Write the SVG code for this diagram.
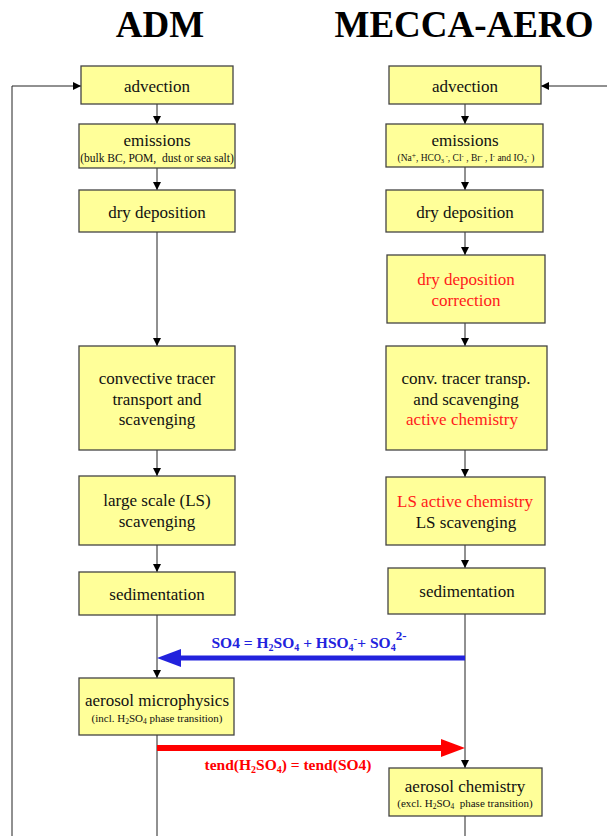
<svg xmlns="http://www.w3.org/2000/svg" width="607" height="836" viewBox="0 0 607 836">
<defs>
<marker id="ah" markerWidth="8" markerHeight="10" refX="8" refY="5" orient="auto" markerUnits="userSpaceOnUse">
<path d="M0,1 L8,5 L0,9 Z" fill="#000"/>
</marker>
<style>
.box{fill:#ffff99;stroke:#444;stroke-width:1.3}
.t{font-family:"Liberation Serif","Times New Roman",serif;font-size:17px;fill:#111;text-anchor:middle}
.s{font-family:"Liberation Serif","Times New Roman",serif;fill:#111;text-anchor:middle}
.r{fill:#ff1a1a}
.h{font-family:"Liberation Serif","Times New Roman",serif;font-size:37px;font-weight:bold;fill:#000;text-anchor:middle}
.c{stroke:#222;stroke-width:1;fill:none}
.ca{stroke:#222;stroke-width:1;fill:none;marker-end:url(#ah)}
.lb{font-family:"Liberation Serif","Times New Roman",serif;font-size:15.5px;font-weight:bold;text-anchor:middle}
</style>
</defs>
<rect width="607" height="836" fill="#fff"/>
<text class="h" x="160" y="37">ADM</text>
<text class="h" x="464" y="37">MECCA-AERO</text>

<g id="connectors">
<polyline class="ca" points="12,836 12,86 81,86"/>
<polyline class="ca" points="607,86 541,86"/>
<line class="ca" x1="157" y1="104" x2="157" y2="124"/>
<line class="ca" x1="157" y1="168" x2="157" y2="190"/>
<line class="ca" x1="157" y1="232" x2="157" y2="346"/>
<line class="ca" x1="157" y1="450" x2="157" y2="476"/>
<line class="ca" x1="157" y1="545" x2="157" y2="572"/>
<line class="ca" x1="157" y1="615" x2="157" y2="678"/>
<line class="c" x1="157" y1="735" x2="157" y2="836"/>
<line class="ca" x1="465" y1="104" x2="465" y2="124"/>
<line class="ca" x1="465" y1="167" x2="465" y2="190"/>
<line class="ca" x1="465" y1="232" x2="465" y2="255"/>
<line class="ca" x1="465" y1="323" x2="465" y2="346"/>
<line class="ca" x1="465" y1="450" x2="465" y2="477"/>
<line class="ca" x1="465" y1="545" x2="465" y2="568"/>
<line class="ca" x1="465" y1="614" x2="465" y2="768"/>
<line class="c" x1="465" y1="816" x2="465" y2="836"/>
<line x1="465" y1="658" x2="178" y2="658" stroke="#2222dd" stroke-width="5"/>
<path d="M157,658 L181,649 L181,667 Z" fill="#2222dd"/>
<line x1="157" y1="748" x2="444" y2="748" stroke="#ff0000" stroke-width="6"/>
<path d="M465,748 L441,739 L441,757 Z" fill="#ff0000"/>
<text class="lb" x="309" y="648" fill="#2222dd">SO4 = H<tspan font-size="10" dy="3">2</tspan><tspan dy="-3">SO</tspan><tspan font-size="10" dy="3">4</tspan><tspan dy="-3"> + HSO</tspan><tspan font-size="10" dy="3">4</tspan><tspan font-size="11" dy="-9">-</tspan><tspan dy="6">+ SO</tspan><tspan font-size="10" dy="3">4</tspan><tspan font-size="13" dy="-11">2-</tspan></text>
<text class="lb" x="288" y="770" fill="#ff0000">tend(H<tspan font-size="10" dy="3">2</tspan><tspan dy="-3">SO</tspan><tspan font-size="10" dy="3">4</tspan><tspan dy="-3">) = tend(SO4)</tspan></text>
</g>

<g id="adm-advection"><rect class="box" x="81" y="66" width="152" height="38"/><text class="t" x="157" y="92">advection</text></g>
<g id="adm-emissions"><rect class="box" x="79" y="124" width="156" height="44"/><text class="t" x="157" y="146">emissions</text><text class="s" x="157" y="162" font-size="11.5" xml:space="preserve">(bulk BC, POM,  dust or sea salt)</text></g>
<g id="adm-drydep"><rect class="box" x="79" y="190" width="156" height="42"/><text class="t" x="157" y="218">dry deposition</text></g>
<g id="adm-convective"><rect class="box" x="79" y="346" width="156" height="104"/><text class="t" x="157" y="384">convective tracer</text><text class="t" x="157" y="405">transport and</text><text class="t" x="157" y="425">scavenging</text></g>
<g id="adm-ls"><rect class="box" x="79" y="476" width="156" height="69"/><text class="t" x="157" y="506">large scale (LS)</text><text class="t" x="157" y="527">scavenging</text></g>
<g id="adm-sedimentation"><rect class="box" x="79" y="572" width="156" height="43"/><text class="t" x="157" y="600">sedimentation</text></g>
<g id="adm-microphysics"><rect class="box" x="79" y="678" width="155" height="57"/><text class="t" x="157" y="706">aerosol microphysics</text><text class="s" x="157" y="722" font-size="11">(incl. H<tspan font-size="7.5" dy="2">2</tspan><tspan dy="-2">SO</tspan><tspan font-size="7.5" dy="2">4</tspan><tspan dy="-2"> phase transition)</tspan></text></g>

<g id="mecca-advection"><rect class="box" x="389" y="66" width="152" height="38"/><text class="t" x="465" y="92">advection</text></g>
<g id="mecca-emissions"><rect class="box" x="386" y="124" width="157" height="43"/><text class="t" x="465" y="146">emissions</text><text class="s" x="466" y="161" font-size="9.5">(Na<tspan font-size="7.5" dy="-3">+</tspan><tspan dy="3">, HCO</tspan><tspan font-size="6.5" dy="2">3</tspan><tspan font-size="6.5" dy="-5"> -</tspan><tspan dy="3">, Cl</tspan><tspan font-size="6.5" dy="-3">-</tspan><tspan dy="3"> , Br</tspan><tspan font-size="6.5" dy="-3">-</tspan><tspan dy="3"> , I</tspan><tspan font-size="6.5" dy="-3">-</tspan><tspan dy="3"> and IO</tspan><tspan font-size="6.5" dy="2">3</tspan><tspan font-size="6.5" dy="-5">-</tspan><tspan dy="3"> )</tspan></text></g>
<g id="mecca-drydep"><rect class="box" x="386" y="190" width="157" height="42"/><text class="t" x="465" y="218">dry deposition</text></g>
<g id="mecca-drydep-corr"><rect class="box" x="387" y="255" width="158" height="68"/><text class="t r" x="466" y="285">dry deposition</text><text class="t r" x="466" y="306">correction</text></g>
<g id="mecca-convective"><rect class="box" x="386" y="346" width="161" height="104"/><text class="t" x="466" y="384">conv. tracer transp.</text><text class="t" x="466" y="405">and scavenging</text><text class="t r" x="462" y="425">active chemistry</text></g>
<g id="mecca-ls"><rect class="box" x="386" y="477" width="159" height="68"/><text class="t r" x="465" y="507">LS active chemistry</text><text class="t" x="466" y="528">LS scavenging</text></g>
<g id="mecca-sedimentation"><rect class="box" x="388" y="568" width="157" height="46"/><text class="t" x="467" y="597">sedimentation</text></g>
<g id="mecca-chemistry"><rect class="box" x="389" y="768" width="153" height="48"/><text class="t" x="465" y="792">aerosol chemistry</text><text class="s" x="465" y="807" font-size="11" xml:space="preserve">(excl. H<tspan font-size="7.5" dy="2">2</tspan><tspan dy="-2">SO</tspan><tspan font-size="7.5" dy="2">4</tspan><tspan dy="-2">  phase transition)</tspan></text></g>
</svg>
